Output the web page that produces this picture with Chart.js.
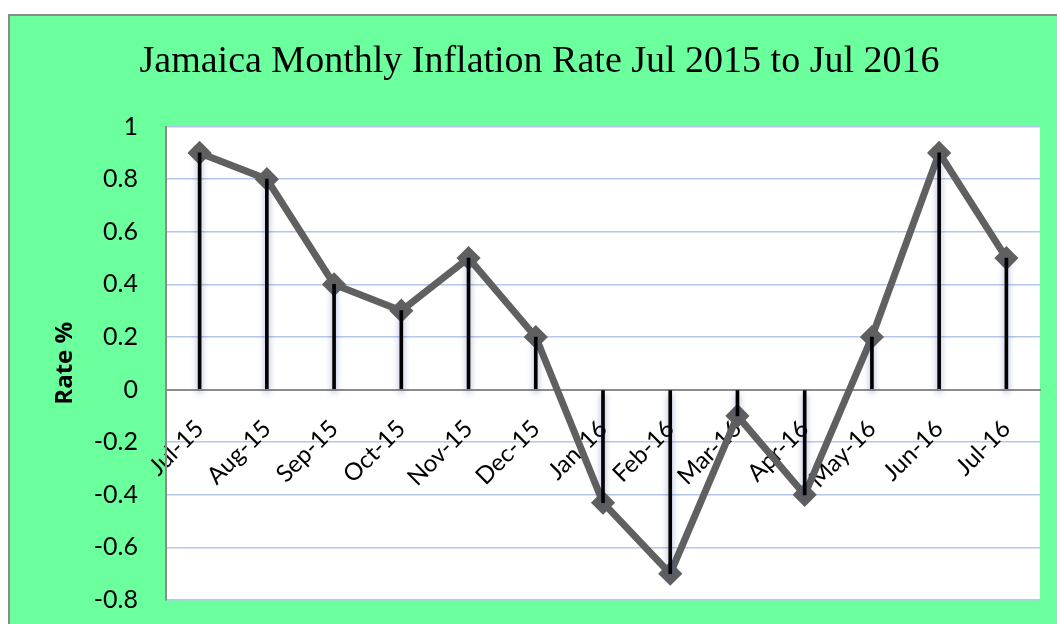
<!DOCTYPE html>
<html>
<head>
<meta charset="utf-8">
<title>Jamaica Monthly Inflation Rate</title>
<script src="https://cdn.jsdelivr.net/npm/chart.js@4.4.1/dist/chart.umd.min.js"></script>
<style>
  html, body { margin: 0; padding: 0; background: #fff; overflow: hidden; }
  #frame {
    position: absolute; left: 8px; top: 14px; width: 1047px; height: 608px;
    background: #6bff9d; border-top: 2px solid #8a8a8a; border-left: 2px solid #8a8a8a;
  }
  canvas { display: block; }
</style>
</head>
<body>
<div id="frame"><canvas id="chart" width="1047" height="608"></canvas></div>
<script>
// Chart data
const months = ['Jul-15', 'Aug-15', 'Sep-15', 'Oct-15', 'Nov-15', 'Dec-15', 'Jan-16',
  'Feb-16', 'Mar-16', 'Apr-16', 'May-16', 'Jun-16', 'Jul-16'];
const rates = [0.9, 0.8, 0.4, 0.3, 0.5, 0.2, -0.43, -0.7, -0.1, -0.4, 0.2, 0.9, 0.5];
const yTicks = [-0.8, -0.6, -0.4, -0.2, 0, 0.2, 0.4, 0.6, 0.8, 1];
const yTitle = 'Rate %';

const GRID_BLUE = '#b4c6ea';
const AXIS_GREY = '#8c8c8c';
const LINE_GREY = '#606060';
const LABEL_FONT = 'Lato, "Open Sans", sans-serif';

// White plot area behind everything
const plotBackground = {
  id: 'plotBackground',
  beforeDraw(chart) {
    const { ctx, chartArea: a } = chart;
    ctx.save();
    ctx.fillStyle = '#ffffff';
    ctx.fillRect(a.left, a.top, a.right - a.left, a.bottom - a.top);
    ctx.restore();
  }
};

// Soft bluish shadow under the drop lines
const dropShadow = {
  id: 'dropShadow',
  beforeDatasetDraw(chart, args) {
    if (args.index !== 1) return;
    const ctx = chart.ctx;
    ctx.save();
    ctx.shadowColor = 'rgba(40, 60, 140, 0.45)';
    ctx.shadowBlur = 6;
    ctx.shadowOffsetY = 4;
  },
  afterDatasetDraw(chart, args) {
    if (args.index !== 1) return;
    chart.ctx.restore();
  }
};

// Vertical axis title, drawn at full width (the built-in one came out squeezed)
const axisTitle = {
  id: 'axisTitle',
  afterDraw(chart) {
    const { ctx, chartArea: a } = chart;
    ctx.save();
    ctx.translate(55, (a.top + a.bottom) / 2);
    ctx.rotate(-Math.PI / 2);
    ctx.font = 'bold 24px "Open Sans", sans-serif';
    ctx.fillStyle = '#000000';
    ctx.textAlign = 'center';
    ctx.textBaseline = 'middle';
    ctx.fillText(yTitle, 0, 0);
    ctx.restore();
  }
};

new Chart(document.getElementById('chart'), {
  type: 'bar',
  data: {
    labels: months,
    datasets: [
      {
        type: 'line',
        label: yTitle,
        data: rates,
        borderColor: LINE_GREY,
        borderWidth: 7,
        pointStyle: 'rectRot',
        pointRadius: 10,
        pointBackgroundColor: LINE_GREY,
        pointBorderColor: LINE_GREY,
        pointBorderWidth: 3,
        tension: 0,
        order: 2
      },
      {
        // drop lines from zero to each point
        label: 'drop',
        data: rates.map(v => [0, v]),
        backgroundColor: '#000000',
        barThickness: 3,
        borderWidth: 0,
        order: 1
      }
    ]
  },
  options: {
    responsive: false,
    animation: false,
    layout: { padding: { left: 29, right: 17, top: 0, bottom: 24 } },
    plugins: {
      legend: { display: false },
      tooltip: { enabled: false },
      title: {
        display: true,
        text: 'Jamaica Monthly Inflation Rate Jul 2015 to Jul 2016',
        color: '#000000',
        font: { family: '"Liberation Serif", "DejaVu Serif", serif', size: 38, weight: 'normal' },
        padding: { top: 23, bottom: 42 }
      }
    },
    scales: {
      x: {
        type: 'category',
        position: { y: 0 },
        offset: true,
        // labels sit inside the plot, so they take no layout room
        afterFit: s => {
          s.height = 0;
          s.paddingTop = 0; s.paddingBottom = 0;
          s.paddingLeft = 0; s.paddingRight = 0;
        },
        grid: { display: false, drawTicks: false },
        border: { display: true, color: AXIS_GREY, width: 2 },
        ticks: {
          color: '#000000',
          font: { family: LABEL_FONT, size: 24 },
          minRotation: 45,
          maxRotation: 45,
          padding: 25,
          autoSkip: false
        }
      },
      y: {
        min: -0.8,
        max: 1,
        afterBuildTicks: s => { s.ticks = yTicks.map(v => ({ value: v })); },
        afterFit: s => {
          s.width = 127;
          s.paddingTop = 0; s.paddingBottom = 0;
        },
        grid: {
          drawTicks: false,
          color: c => (c.tick && c.tick.value === 0 ? AXIS_GREY : GRID_BLUE),
          lineWidth: c => (c.tick && c.tick.value === 0 ? 2 : 1.5)
        },
        border: { display: true, color: AXIS_GREY, width: 2 },
        ticks: {
          color: '#000000',
          font: { family: LABEL_FONT, size: 25 },
          padding: 28,
          callback: v => String(v)
        }
      }
    }
  },
  plugins: [plotBackground, dropShadow, axisTitle]
});
</script>
</body>
</html>
